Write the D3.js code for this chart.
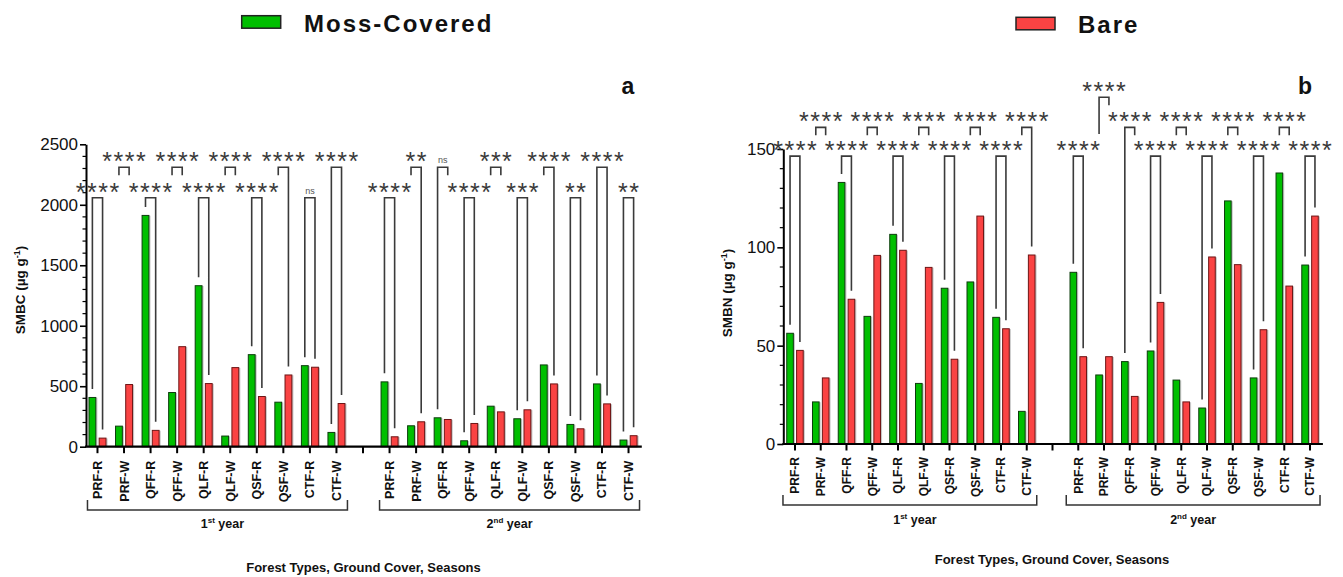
<!DOCTYPE html>
<html><head><meta charset="utf-8">
<script src="https://cdn.jsdelivr.net/npm/d3@7"></script>
<style>body{margin:0;background:#fff;} svg{display:block;font-family:"Liberation Sans",Arial,sans-serif;}</style>
</head><body><svg id="c" width="1343" height="577"></svg>
<script>
// ---------- data ----------
const categories = ["PRF-R","PRF-W","QFF-R","QFF-W","QLF-R","QLF-W","QSF-R","QSF-W","CTF-R","CTF-W"];
const seriesNames = ["Moss-Covered","Bare"];
const xTitle = "Forest Types, Ground Cover, Seasons";

// SMBC (µg g-1)
const smbcMossY1 = [407,170,1912,448,1331,88,761,368,670,118];
const smbcBareY1 = [71,514,135,827,522,654,415,593,657,357];
const smbcMossY2 = [536,173,239,49,335,231,676,184,519,55];
const smbcBareY2 = [82,206,225,192,288,305,519,148,354,91];
const smbcTicks = [0,500,1000,1500,2000,2500];

// SMBN (µg g-1)
const smbnMossY1 = [56.3,21.4,133,64.9,106.6,30.8,79.2,82.4,64.4,16.6];
const smbnBareY1 = [47.6,33.6,73.6,95.9,98.5,89.8,43.1,115.9,58.6,96.1];
const smbnMossY2 = [87.3,35.1,41.9,47.3,32.5,18.3,123.6,33.6,137.8,91.0];
const smbnBareY2 = [44.4,44.4,24.2,72.0,21.4,95.1,91.2,58.1,80.3,115.9];
const smbnTicks = [0,50,100,150];

// significance brackets: [slot, level, label, left leg, right leg]  (L = down to bar, S = short, number = leg end value)
const smbcBrackets = [
  [0,1,"****","L","L"],[1,2,"****","S","S"],[2,1,"****","L","L"],[3,2,"****","S","S"],[4,1,"****","L","L"],
  [5,2,"****","S","S"],[6,1,"****","L","L"],[7,2,"****","S","L"],[8,1,"ns","L","L"],[9,2,"****","L","L"],
  [11,1,"****","L","L"],[12,2,"**","S","L"],[13,2,"ns","L","S"],[14,1,"****","L","L"],[15,2,"***","S","S"],
  [16,1,"***","L","L"],[17,2,"****","S","L"],[18,1,"**","L","L"],[19,2,"****","L","L"],[20,1,"**","L","L"]
];
const smbcLevels = [2058,2310];
const smbnBrackets = [
  [0,1,"****","L","L"],[1,2,"****","S","S"],[2,1,"****","L","L"],[3,2,"****","S","S"],[4,1,"****","L","L"],
  [5,2,"****","S","S"],[6,1,"****","L","L"],[7,2,"****","S","S"],[8,1,"****","L","L"],[9,2,"****","S","L"],
  [11,1,"****","L","L"],[12,3,"****",157.6,"S"],[13,2,"****","L","S"],[14,1,"****","L","L"],[15,2,"****","S","S"],
  [16,1,"****","L","L"],[17,2,"****","S","S"],[18,1,"****","L","L"],[19,2,"****","S","S"],[20,1,"****","L","L"]
];
const smbnLevels = [146.4,161,176.3];

// ---------- drawing ----------
const svg = d3.select("#c");
const colors = {"Moss-Covered":"#00bf00","Bare":"#fa4343"};
const strokes = {"Moss-Covered":"#0d3d0d","Bare":"#6e1515"};

function drawPanel(p){
  const g = svg.append("g");
  const slots = [...categories.map(c=>"1|"+c),"gap",...categories.map(c=>"2|"+c)];
  const x = d3.scaleBand().domain(slots).range(p.xRange);
  const bw = x.bandwidth();
  const inner = d3.scaleBand().domain(seriesNames).range([bw*0.18,bw*0.82]).paddingInner(0.33);
  const y = d3.scaleLinear().domain([0,p.max]).range(p.yRange);
  const moss = [...p.moss1,null,...p.moss2];
  const bare = [...p.bare1,null,...p.bare2];
  const rows = slots.map((s,i)=>({slot:s,i,vals:{"Moss-Covered":moss[i],"Bare":bare[i]}})).filter(d=>d.slot!=="gap");
  const cx = (s,name)=>x(s)+inner(name)+inner.bandwidth()/2;

  // bars
  rows.forEach(r=>{
    seriesNames.forEach(name=>{
      const v=r.vals[name];
      g.append("rect").attr("x",x(r.slot)+inner(name)+1.6).attr("y",y(v)+0.3)
        .attr("width",inner.bandwidth()).attr("height",y(0)-y(v)).attr("fill","#c6c6c6");
      g.append("rect").attr("x",x(r.slot)+inner(name)).attr("y",y(v))
        .attr("width",inner.bandwidth()).attr("height",y(0)-y(v))
        .attr("fill",colors[name]).attr("stroke",strokes[name]).attr("stroke-width",1);
    });
  });

  // y axis
  const ya = g.append("g").attr("transform",`translate(${p.axisX},0)`)
    .call(d3.axisLeft(y).tickValues(p.ticks).tickSize(6).tickSizeOuter(0).tickPadding(2).tickFormat(d3.format("d")));
  ya.select(".domain").attr("stroke","#000").attr("stroke-width",2);
  ya.selectAll(".tick line").attr("stroke","#000").attr("stroke-width",1.6);
  ya.selectAll(".tick text").attr("font-size",17).attr("fill","#111").attr("font-family","Liberation Sans, Arial");
  d3.range(0,p.max+0.001,p.minor).filter(v=>!p.ticks.includes(v)).forEach(v=>{
    g.append("line").attr("x1",p.axisX-3.5).attr("x2",p.axisX).attr("y1",y(v)).attr("y2",y(v))
      .attr("stroke","#000").attr("stroke-width",1.2);
  });

  // x axis
  g.append("line").attr("x1",p.axisX-1).attr("x2",p.xRange[1]).attr("y1",y(0)).attr("y2",y(0))
    .attr("stroke","#000").attr("stroke-width",2.2);
  slots.forEach(s=>{
    const c=x(s)+bw/2;
    g.append("line").attr("x1",c).attr("x2",c).attr("y1",y(0)).attr("y2",y(0)+6.5).attr("stroke","#000").attr("stroke-width",2);
  });
  rows.forEach(r=>{
    const c=x(r.slot)+bw/2;
    g.append("text").attr("transform",`translate(${c},${y(0)+p.labelGap}) rotate(-90)`)
      .attr("text-anchor","end").attr("dy","0.36em").attr("font-size",p.xFont).attr("font-weight","bold")
      .attr("fill","#111").text(r.slot.split("|")[1]);
  });

  // year brackets
  [["1",categories[0],categories[9],"st"],["2",categories[0],categories[9],"nd"]].forEach((yr,k)=>{
    const l = x(yr[0]+"|"+yr[1])+bw/2+p.yb[0];
    const rr = x(yr[0]+"|"+yr[2])+bw/2+p.yb[1];
    g.append("path").attr("d",`M${l},${p.ybY-10}V${p.ybY}H${rr}V${p.ybY-10}`)
      .attr("fill","none").attr("stroke","#333").attr("stroke-width",1.5);
    const t = g.append("text").attr("x",(l+rr)/2+(k===0?p.y1dx:0)).attr("y",p.ybY+p.ytGap)
      .attr("text-anchor","middle").attr("font-size",12.5).attr("font-weight","bold").attr("fill","#111");
    t.append("tspan").text(yr[0]);
    t.append("tspan").attr("font-size",8).attr("dy",-5).text(yr[3]);
    t.append("tspan").attr("dy",5).text(" year");
  });

  // x title
  g.append("text").attr("x",p.xt[0]).attr("y",p.xt[1]).attr("text-anchor","middle")
    .attr("font-size",13).attr("font-weight","bold").attr("fill","#111").text(xTitle);

  // y title
  const yt = g.append("text").attr("transform",`translate(${p.ytl[0]},${p.ytl[1]}) rotate(-90)`)
    .attr("text-anchor","middle").attr("dy","0.36em").attr("font-size",13.5).attr("font-weight","bold").attr("fill","#111");
  yt.append("tspan").text(p.ylabel+" (µg g");
  yt.append("tspan").attr("font-size",9).attr("dy",-5).text("-1");
  yt.append("tspan").attr("dy",5).text(")");

  // panel letter
  g.append("text").attr("x",p.letter[0]).attr("y",p.letter[1]).attr("text-anchor","middle")
    .attr("font-size",23).attr("font-weight","bold").attr("fill","#111").text(p.letterText);

  // significance brackets
  p.brackets.forEach(b=>{
    const [si,lvl,lab,lL,lR]=b;
    const s=slots[si];
    const xl=cx(s,"Moss-Covered"), xr=cx(s,"Bare");
    const yt0=y(p.levels[lvl-1]);
    const legEnd=(leg,v)=> leg==="L" ? y(v)-8.5 : (leg==="S" ? yt0+8 : y(leg));
    const i=slots.indexOf(s);
    g.append("path").attr("d",`M${xl},${legEnd(lL,moss[i])}V${yt0}H${xr}V${legEnd(lR,bare[i])}`)
      .attr("fill","none").attr("stroke","#3a3a3a").attr("stroke-width",1.6);
    if(lab==="ns"){
      g.append("text").attr("x",(xl+xr)/2).attr("y",yt0-4).attr("text-anchor","middle")
        .attr("font-size",9).attr("fill","#555").text(lab);
    } else {
      g.append("text").attr("x",(xl+xr)/2+0.75).attr("y",yt0+3).attr("text-anchor","middle")
        .attr("font-size",25).attr("letter-spacing","1.5px").attr("fill","#3a3a3a").text(lab);
    }
  });
}

drawPanel({
  xRange:[84.2,641.8], yRange:[446.7,144.3], max:2500, ticks:smbcTicks, minor:100, axisX:86,
  moss1:smbcMossY1, bare1:smbcBareY1, moss2:smbcMossY2, bare2:smbcBareY2,
  brackets:smbcBrackets, levels:smbcLevels, labelGap:14, xFont:12.5,
  yb:[-10,11], ybY:510, ytGap:18, y1dx:5, xt:[363.5,572], ytl:[20,290], ylabel:"SMBC",
  letter:[628,94], letterText:"a"
});
drawPanel({
  xRange:[782.1,1322.9], yRange:[444,149], max:150, ticks:smbnTicks, minor:10, axisX:783.3,
  moss1:smbnMossY1, bare1:smbnBareY1, moss2:smbnMossY2, bare2:smbnBareY2,
  brackets:smbnBrackets, levels:smbnLevels, labelGap:13, xFont:12,
  yb:[-12,10], ybY:505, ytGap:19, y1dx:5, xt:[1052,564], ytl:[727.5,293], ylabel:"SMBN",
  letter:[1305,93.5], letterText:"b"
});

// legend
const legend = [[seriesNames[0],241.7,15.7,304,31.5],[seriesNames[1],1016,17.3,1078,32.5]];
legend.forEach(l=>{
  svg.append("rect").attr("x",l[1]).attr("y",l[2]).attr("width",39).attr("height",12.5)
    .attr("fill",colors[l[0]]).attr("stroke","#222").attr("stroke-width",1.5);
  svg.append("text").attr("x",l[3]).attr("y",l[4]).attr("font-size",24).attr("font-weight","bold")
    .attr("letter-spacing","2px").attr("fill","#111").text(l[0]);
});
</script></body></html>
